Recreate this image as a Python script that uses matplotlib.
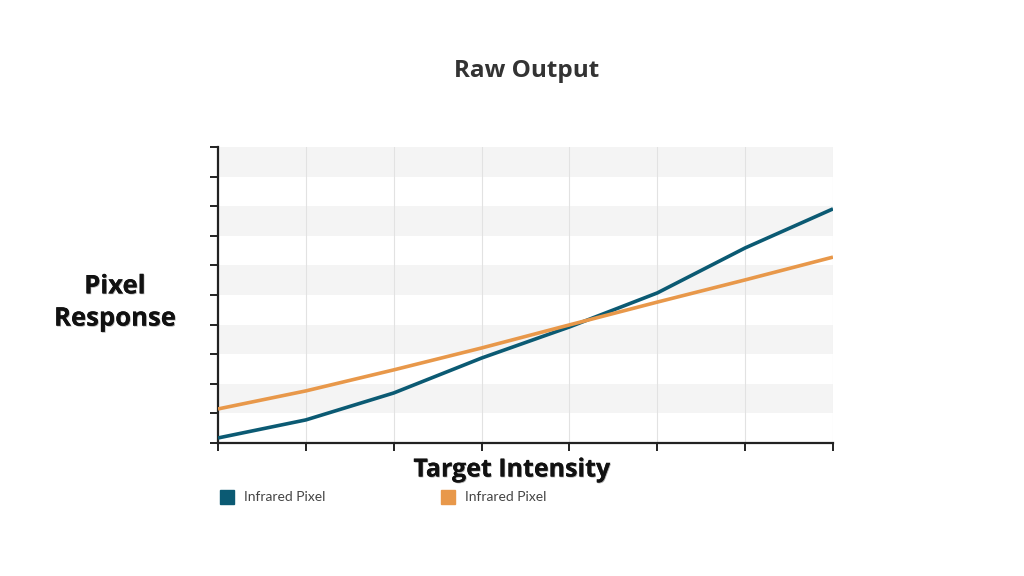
import matplotlib
matplotlib.use("Agg")
import matplotlib.pyplot as plt
from matplotlib.patches import Rectangle
import matplotlib.patheffects as pe

x_vals = [0, 1, 2, 3, 4, 5, 6, 7]
series_a = [0.17, 0.78, 1.69, 2.87, 3.92, 5.07, 6.59, 7.91]
series_b = [1.15, 1.76, 2.47, 3.21, 3.99, 4.76, 5.51, 6.28]
series_names = ["Infrared Pixel", "Infrared Pixel"]
colors = ["#0b5a73", "#e8984a"]
title = "Raw Output"
xlabel = "Target Intensity"
ylabel = "Pixel\nResponse"

plt.rcParams['font.family'] = ['Lato', 'DejaVu Sans']
head_font = ['Open Sans', 'DejaVu Sans']

fig = plt.figure(figsize=(10.24, 5.76), dpi=100)
ax = fig.add_axes([218/1024, 1 - 443/576, 615/1024, 296/576])

ax.set_xlim(0, 7)
ax.set_ylim(0, 10)

# alternating bands
for i in range(1, 10, 2):
    ax.axhspan(i, i + 1, color="#f4f4f4", zorder=0, lw=0)

for xv in x_vals[1:]:
    ax.axvline(xv, color="#e2e2e2", lw=0.8, zorder=1)

ax.plot(x_vals, series_a, color=colors[0], lw=2.6, zorder=3, solid_capstyle='butt')
ax.plot(x_vals, series_b, color=colors[1], lw=2.6, zorder=3, solid_capstyle='butt')

for s in ["top", "right"]:
    ax.spines[s].set_visible(False)
for s in ["left", "bottom"]:
    ax.spines[s].set_color("#222222")
    ax.spines[s].set_linewidth(1.6)

ax.set_xticks(x_vals)
ax.set_yticks(range(0, 11))
ax.tick_params(axis='both', direction='out', length=6, width=1.4, color="#222222",
               labelleft=False, labelbottom=False)

shadow = [pe.withSimplePatchShadow(offset=(0.6, -0.6), alpha=0.35), pe.Normal()]
fig.text(527/1024, 1 - 71/576, title, ha='center', va='center', fontsize=17.5,
         fontweight='bold', color="#333333", family=head_font)
fig.text(512/1024, 1 - 470/576, xlabel, ha='center', va='center', fontsize=18,
         fontweight='bold', color="#111111", path_effects=shadow, family=head_font)
fig.text(115/1024, 1 - 302/576, ylabel, ha='center', va='center', fontsize=18.5,
         fontweight='bold', color="#111111", linespacing=1.25, path_effects=shadow,
         family=head_font)

# legend
leg_x = [220, 441]
for lx, name, c in zip(leg_x, series_names, colors):
    fig.patches.append(Rectangle((lx/1024, 1 - 504/576), 14/1024, 14/576,
                                 transform=fig.transFigure, color=c, figure=fig))
    fig.text((lx + 24)/1024, 1 - 497/576, name, ha='left', va='center',
             fontsize=10, color="#444444")

fig.savefig("out.png", dpi=100)
